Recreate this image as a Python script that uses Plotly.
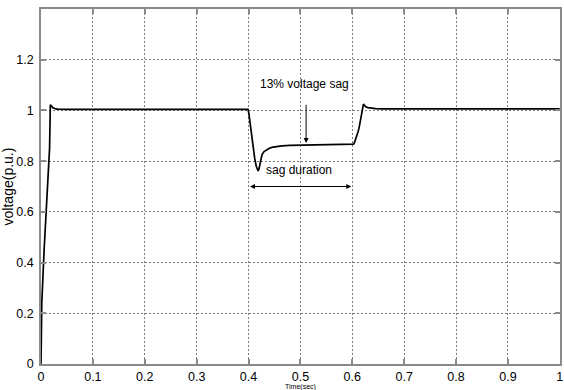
import plotly.graph_objects as go

# Time axis (s) and per-unit voltage of the simulated supply
time_s = [0.0, 0.0005, 0.0015, 0.006, 0.011, 0.0165, 0.018, 0.020, 0.023, 0.027, 0.032,
          0.05, 0.1, 0.15, 0.2, 0.25, 0.3, 0.35, 0.399,
          0.4005, 0.403, 0.406, 0.409, 0.412, 0.415, 0.417, 0.4185, 0.420, 0.4215,
          0.423, 0.426, 0.430, 0.435, 0.440, 0.447, 0.455, 0.465, 0.48, 0.5,
          0.52, 0.55, 0.58, 0.6025,
          0.6045, 0.607, 0.609, 0.611, 0.613, 0.616, 0.619, 0.6215, 0.6235, 0.626,
          0.630, 0.636, 0.645, 0.66, 0.7, 0.75, 0.8, 0.85, 0.9, 0.95, 1.0]
voltage_pu = [0.0, 0.12, 0.24, 0.45, 0.65, 0.85, 1.022, 1.016, 1.010, 1.007, 1.005,
              1.004, 1.004, 1.004, 1.004, 1.004, 1.004, 1.004, 1.004,
              0.99, 0.95, 0.90, 0.85, 0.81, 0.78, 0.765, 0.761, 0.768, 0.785,
              0.805, 0.826, 0.838, 0.846, 0.851, 0.855, 0.858, 0.860, 0.862, 0.863,
              0.864, 0.865, 0.866, 0.867,
              0.875, 0.895, 0.905, 0.915, 0.93, 0.96, 0.995, 1.025, 1.02, 1.014,
              1.011, 1.009, 1.007, 1.006, 1.006, 1.006, 1.006, 1.006, 1.006, 1.006, 1.006]

x_ticks = [0, 0.1, 0.2, 0.3, 0.4, 0.5, 0.6, 0.7, 0.8, 0.9, 1]
x_tick_text = ["0", "0.1", "0.2", "0.3", "0.4", "0.5", "0.6", "0.7", "0.8", "0.9", "1"]
y_ticks = [0, 0.2, 0.4, 0.6, 0.8, 1.0, 1.2]
y_tick_text = ["0", "0.2", "0.4", "0.6", "0.8", "1", "1.2"]

# Annotation anchors (data units)
sag_label = "13% voltage sag"
sag_arrow_t = 0.511
sag_arrow_from, sag_arrow_to = 1.028, 0.872
duration_label = "sag duration"
duration_start, duration_end, duration_level = 0.4, 0.598, 0.70

font_family = "Liberation Sans, Arial, sans-serif"
axis_grey = "#8a8a8a"

fig = go.Figure()
fig.add_trace(go.Scatter(
    x=time_s, y=voltage_pu, mode="lines",
    line=dict(color="black", width=1.7),
    hoverinfo="skip", showlegend=False,
))

axis_common = dict(
    showgrid=True, gridcolor="#7a7a7a", griddash="2px,2px", gridwidth=1,
    showline=True, linecolor=axis_grey, linewidth=1.5, mirror="ticks",
    ticks="inside", ticklen=5, tickcolor=axis_grey, tickwidth=1.5,
    zeroline=False, ticklabeloverflow="allow",
    tickfont=dict(family=font_family, size=12.5, color="black"),
)

fig.update_xaxes(
    range=[0, 1.0004], tickvals=x_ticks, ticktext=x_tick_text,
    **axis_common,
)
fig.update_yaxes(
    range=[0, 1.4], tickvals=y_ticks, ticktext=y_tick_text,
    ticklabelstandoff=3,
    title=dict(text="voltage(p.u.)", font=dict(family=font_family, size=14, color="black"),
               standoff=4),
    **axis_common,
)

# Small time-axis caption under the tick labels
fig.add_annotation(
    x=0.5, y=-0.066, xref="paper", yref="paper", yanchor="middle",
    text="Time(sec)", showarrow=False,
    font=dict(family=font_family, size=7, color="black"),
)

# Downward arrow marking the sag depth
fig.add_annotation(
    x=sag_arrow_t, y=sag_arrow_to, ax=sag_arrow_t, ay=sag_arrow_from,
    xref="x", yref="y", axref="x", ayref="y",
    text="", showarrow=True, arrowhead=2, arrowsize=1, arrowwidth=1, arrowcolor="black",
)
fig.add_annotation(
    x=0.507, y=1.104, xref="x", yref="y", text=sag_label, showarrow=False,
    font=dict(family=font_family, size=12, color="black"),
)

# Double-headed arrow spanning the sag interval
fig.add_annotation(
    x=duration_end, y=duration_level, ax=duration_start, ay=duration_level,
    xref="x", yref="y", axref="x", ayref="y",
    text="", showarrow=True, arrowhead=2, startarrowhead=2, arrowside="end+start",
    arrowsize=1, arrowwidth=1, arrowcolor="black",
)
fig.add_annotation(
    x=0.497, y=0.764, xref="x", yref="y", text=duration_label, showarrow=False,
    font=dict(family=font_family, size=12, color="black"),
)

fig.update_layout(
    width=564, height=390,
    margin=dict(l=41, r=1, t=9, b=26),
    paper_bgcolor="white", plot_bgcolor="white",
    font=dict(family=font_family, color="black"),
)

fig.write_html("out.html")
